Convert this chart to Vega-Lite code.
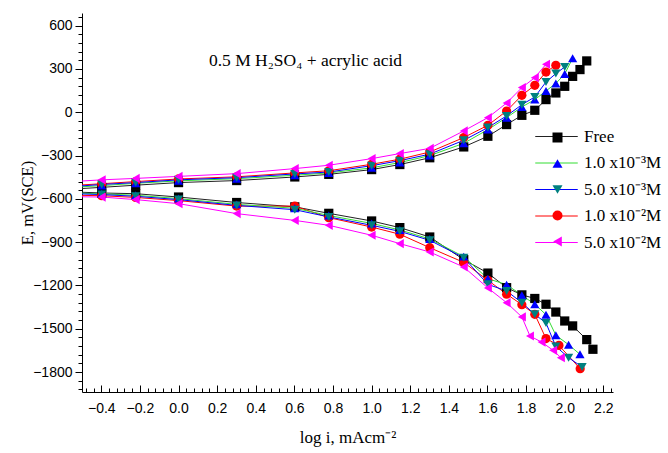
{
  "$schema": "https://vega.github.io/schema/vega-lite/v6.json",
  "width": 531,
  "height": 379,
  "autosize": {"type": "none"},
  "padding": {"left": 82, "top": 13, "right": 55, "bottom": 61},
  "background": "white",
  "config": {"view": {"stroke": null}, "font": "Liberation Sans"},
  "title": {
    "text": "0.5 M H₂SO₄ + acrylic acid",
    "font": "Liberation Serif", "fontSize": 17.5, "fontWeight": "normal", "color": "black",
    "anchor": "middle", "frame": "group", "orient": "top", "baseline": "alphabetic",
    "offset": -73, "dx": -42
  },
  "resolve": {"axis": {"x": "independent"}},
  "data": {"values": [
    {"s":"F","b":"a","x":-0.523,"E":-530},{"s":"F","b":"a","x":-0.398,"E":-520},{"s":"F","b":"a","x":-0.222,"E":-505},{"s":"F","b":"a","x":0,"E":-487},{"s":"F","b":"a","x":0.301,"E":-473},{"s":"F","b":"a","x":0.602,"E":-448},{"s":"F","b":"a","x":0.778,"E":-430},{"s":"F","b":"a","x":1.0,"E":-397},{"s":"F","b":"a","x":1.146,"E":-362},{"s":"F","b":"a","x":1.301,"E":-315},{"s":"F","b":"a","x":1.477,"E":-240},{"s":"F","b":"a","x":1.602,"E":-166},{"s":"F","b":"a","x":1.699,"E":-85},{"s":"F","b":"a","x":1.778,"E":-21},{"s":"F","b":"a","x":1.845,"E":14},{"s":"F","b":"a","x":1.903,"E":88},{"s":"F","b":"a","x":1.954,"E":134},{"s":"F","b":"a","x":2.0,"E":180},{"s":"F","b":"a","x":2.041,"E":249},{"s":"F","b":"a","x":2.079,"E":296},{"s":"F","b":"a","x":2.114,"E":356},
    {"s":"F","b":"c","x":-0.523,"E":-553},{"s":"F","b":"c","x":-0.398,"E":-559},{"s":"F","b":"c","x":-0.222,"E":-564},{"s":"F","b":"c","x":0,"E":-587},{"s":"F","b":"c","x":0.301,"E":-625},{"s":"F","b":"c","x":0.602,"E":-655},{"s":"F","b":"c","x":0.778,"E":-700},{"s":"F","b":"c","x":1.0,"E":-753},{"s":"F","b":"c","x":1.146,"E":-799},{"s":"F","b":"c","x":1.301,"E":-864},{"s":"F","b":"c","x":1.477,"E":-1021},{"s":"F","b":"c","x":1.602,"E":-1114},{"s":"F","b":"c","x":1.699,"E":-1215},{"s":"F","b":"c","x":1.778,"E":-1265},{"s":"F","b":"c","x":1.845,"E":-1290},{"s":"F","b":"c","x":1.903,"E":-1330},{"s":"F","b":"c","x":1.954,"E":-1384},{"s":"F","b":"c","x":2.0,"E":-1446},{"s":"F","b":"c","x":2.041,"E":-1480},{"s":"F","b":"c","x":2.114,"E":-1575},{"s":"F","b":"c","x":2.146,"E":-1642},
    {"s":"C","b":"a","x":-0.523,"E":-505},{"s":"C","b":"a","x":-0.398,"E":-495},{"s":"C","b":"a","x":-0.222,"E":-480},{"s":"C","b":"a","x":0,"E":-462},{"s":"C","b":"a","x":0.301,"E":-447},{"s":"C","b":"a","x":0.602,"E":-420},{"s":"C","b":"a","x":0.778,"E":-405},{"s":"C","b":"a","x":1.0,"E":-360},{"s":"C","b":"a","x":1.146,"E":-325},{"s":"C","b":"a","x":1.301,"E":-275},{"s":"C","b":"a","x":1.477,"E":-175},{"s":"C","b":"a","x":1.602,"E":-90},{"s":"C","b":"a","x":1.699,"E":9},{"s":"C","b":"a","x":1.778,"E":118},{"s":"C","b":"a","x":1.845,"E":187},{"s":"C","b":"a","x":1.903,"E":279},{"s":"C","b":"a","x":1.954,"E":326},
    {"s":"C","b":"c","x":-0.523,"E":-575},{"s":"C","b":"c","x":-0.398,"E":-578},{"s":"C","b":"c","x":-0.222,"E":-590},{"s":"C","b":"c","x":0,"E":-612},{"s":"C","b":"c","x":0.301,"E":-650},{"s":"C","b":"c","x":0.602,"E":-650},{"s":"C","b":"c","x":0.778,"E":-730},{"s":"C","b":"c","x":1.0,"E":-795},{"s":"C","b":"c","x":1.146,"E":-845},{"s":"C","b":"c","x":1.301,"E":-938},{"s":"C","b":"c","x":1.477,"E":-1040},{"s":"C","b":"c","x":1.602,"E":-1164},{"s":"C","b":"c","x":1.699,"E":-1260},{"s":"C","b":"c","x":1.778,"E":-1333},{"s":"C","b":"c","x":1.845,"E":-1400},{"s":"C","b":"c","x":1.903,"E":-1568},{"s":"C","b":"c","x":1.97,"E":-1615},{"s":"C","b":"c","x":2.08,"E":-1777},
    {"s":"A","b":"a","x":-0.523,"E":-518},{"s":"A","b":"a","x":-0.398,"E":-508},{"s":"A","b":"a","x":-0.222,"E":-492},{"s":"A","b":"a","x":0,"E":-475},{"s":"A","b":"a","x":0.301,"E":-460},{"s":"A","b":"a","x":0.602,"E":-436},{"s":"A","b":"a","x":0.778,"E":-420},{"s":"A","b":"a","x":1.0,"E":-385},{"s":"A","b":"a","x":1.146,"E":-348},{"s":"A","b":"a","x":1.301,"E":-300},{"s":"A","b":"a","x":1.477,"E":-215},{"s":"A","b":"a","x":1.602,"E":-120},{"s":"A","b":"a","x":1.699,"E":-37},{"s":"A","b":"a","x":1.778,"E":37},{"s":"A","b":"a","x":1.845,"E":88},{"s":"A","b":"a","x":1.903,"E":148},{"s":"A","b":"a","x":1.954,"E":200},{"s":"A","b":"a","x":2.0,"E":265},{"s":"A","b":"a","x":2.041,"E":375},
    {"s":"A","b":"c","x":-0.523,"E":-560},{"s":"A","b":"c","x":-0.398,"E":-565},{"s":"A","b":"c","x":-0.222,"E":-575},{"s":"A","b":"c","x":0,"E":-598},{"s":"A","b":"c","x":0.301,"E":-638},{"s":"A","b":"c","x":0.602,"E":-665},{"s":"A","b":"c","x":0.778,"E":-715},{"s":"A","b":"c","x":1.0,"E":-770},{"s":"A","b":"c","x":1.146,"E":-815},{"s":"A","b":"c","x":1.301,"E":-878},{"s":"A","b":"c","x":1.477,"E":-1000},{"s":"A","b":"c","x":1.602,"E":-1153},{"s":"A","b":"c","x":1.699,"E":-1194},{"s":"A","b":"c","x":1.778,"E":-1268},{"s":"A","b":"c","x":1.845,"E":-1330},{"s":"A","b":"c","x":1.903,"E":-1402},{"s":"A","b":"c","x":1.954,"E":-1545},{"s":"A","b":"c","x":2.02,"E":-1610},{"s":"A","b":"c","x":2.079,"E":-1677},
    {"s":"B","b":"a","x":-0.523,"E":-512},{"s":"B","b":"a","x":-0.398,"E":-500},{"s":"B","b":"a","x":-0.222,"E":-487},{"s":"B","b":"a","x":0,"E":-468},{"s":"B","b":"a","x":0.301,"E":-453},{"s":"B","b":"a","x":0.602,"E":-427},{"s":"B","b":"a","x":0.778,"E":-414},{"s":"B","b":"a","x":1.0,"E":-370},{"s":"B","b":"a","x":1.146,"E":-335},{"s":"B","b":"a","x":1.301,"E":-290},{"s":"B","b":"a","x":1.477,"E":-194},{"s":"B","b":"a","x":1.602,"E":-106},{"s":"B","b":"a","x":1.699,"E":-25},{"s":"B","b":"a","x":1.778,"E":53},{"s":"B","b":"a","x":1.845,"E":106},{"s":"B","b":"a","x":1.903,"E":210},{"s":"B","b":"a","x":1.954,"E":268},{"s":"B","b":"a","x":2.0,"E":314},
    {"s":"B","b":"c","x":-0.523,"E":-565},{"s":"B","b":"c","x":-0.398,"E":-570},{"s":"B","b":"c","x":-0.222,"E":-582},{"s":"B","b":"c","x":0,"E":-605},{"s":"B","b":"c","x":0.301,"E":-645},{"s":"B","b":"c","x":0.602,"E":-675},{"s":"B","b":"c","x":0.778,"E":-725},{"s":"B","b":"c","x":1.0,"E":-783},{"s":"B","b":"c","x":1.146,"E":-825},{"s":"B","b":"c","x":1.301,"E":-887},{"s":"B","b":"c","x":1.477,"E":-1007},{"s":"B","b":"c","x":1.602,"E":-1192},{"s":"B","b":"c","x":1.699,"E":-1238},{"s":"B","b":"c","x":1.778,"E":-1319},{"s":"B","b":"c","x":1.845,"E":-1400},{"s":"B","b":"c","x":1.903,"E":-1460},{"s":"B","b":"c","x":1.954,"E":-1622},{"s":"B","b":"c","x":2.02,"E":-1700},{"s":"B","b":"c","x":2.09,"E":-1765},
    {"s":"D","b":"a","x":-0.523,"E":-478},{"s":"D","b":"a","x":-0.398,"E":-468},{"s":"D","b":"a","x":-0.222,"E":-458},{"s":"D","b":"a","x":0,"E":-444},{"s":"D","b":"a","x":0.301,"E":-425},{"s":"D","b":"a","x":0.602,"E":-390},{"s":"D","b":"a","x":0.778,"E":-367},{"s":"D","b":"a","x":1.0,"E":-321},{"s":"D","b":"a","x":1.146,"E":-286},{"s":"D","b":"a","x":1.301,"E":-250},{"s":"D","b":"a","x":1.477,"E":-129},{"s":"D","b":"a","x":1.602,"E":-37},{"s":"D","b":"a","x":1.699,"E":64},{"s":"D","b":"a","x":1.778,"E":171},{"s":"D","b":"a","x":1.845,"E":240},{"s":"D","b":"a","x":1.903,"E":333},
    {"s":"D","b":"c","x":-0.523,"E":-585},{"s":"D","b":"c","x":-0.398,"E":-587},{"s":"D","b":"c","x":-0.222,"E":-605},{"s":"D","b":"c","x":0,"E":-633},{"s":"D","b":"c","x":0.301,"E":-702},{"s":"D","b":"c","x":0.602,"E":-749},{"s":"D","b":"c","x":0.778,"E":-783},{"s":"D","b":"c","x":1.0,"E":-852},{"s":"D","b":"c","x":1.146,"E":-910},{"s":"D","b":"c","x":1.301,"E":-968},{"s":"D","b":"c","x":1.477,"E":-1072},{"s":"D","b":"c","x":1.602,"E":-1217},{"s":"D","b":"c","x":1.699,"E":-1319},{"s":"D","b":"c","x":1.778,"E":-1418},{"s":"D","b":"c","x":1.82,"E":-1550},{"s":"D","b":"c","x":1.88,"E":-1592},{"s":"D","b":"c","x":1.94,"E":-1649},{"s":"D","b":"c","x":1.98,"E":-1700}
  ]},
  "encoding": {
    "y": {"field": "E", "type": "quantitative",
      "scale": {"domain": [-1938, 688], "nice": false, "zero": false},
      "axis": {
        "title": "E, mV(SCE)", "titleFont": "Liberation Serif", "titleFontSize": 16.5, "titleFontWeight": "normal", "titleColor": "black", "titlePadding": -3,
        "values": [-1920,-1860,-1800,-1740,-1680,-1620,-1560,-1500,-1440,-1380,-1320,-1260,-1200,-1140,-1080,-1020,-960,-900,-840,-780,-720,-660,-600,-540,-480,-420,-360,-300,-240,-180,-120,-60,0,60,120,180,240,300,360,420,480,540,600,660],
        "labelExpr": "datum.value % 300 == 0 ? format(datum.value, 'd') : ''",
        "labelOverlap": false, "labelFlush": false, "labelBound": false,
        "labelFont": "Liberation Sans", "labelFontSize": 14, "labelColor": "black", "labelPadding": 3,
        "tickSize": {"condition": {"test": "datum.value % 300 == 0", "value": 7}, "value": 4},
        "tickColor": "black", "domainColor": "black", "grid": false
      }
    }
  },
  "layer": [
    {
      "mark": {"type": "line", "strokeWidth": 1, "clip": true},
      "encoding": {
        "x": {"field": "x", "type": "quantitative",
          "scale": {"domain": [-0.5, 2.25], "nice": false, "zero": false},
          "axis": {
            "orient": "bottom",
            "title": "log i, mAcm⁻²", "titleFont": "Liberation Serif", "titleFontSize": 17, "titleFontWeight": "normal", "titleColor": "black", "titlePadding": 14,
            "values": [-0.4,-0.2,0,0.2,0.4,0.6,0.8,1,1.2,1.4,1.6,1.8,2,2.2],
            "format": ".1f",
            "labelOverlap": false, "labelFlush": false, "labelBound": false,
            "labelFont": "Liberation Sans", "labelFontSize": 14, "labelColor": "black", "labelPadding": 9,
            "ticks": false, "domainColor": "black", "grid": false
          }
        },
        "detail": {"field": "b"},
        "color": {"field": "s", "type": "nominal",
          "scale": {"domain": ["F","A","B","C","D"], "range": ["#222222","#33dd33","#0000ff","#ff0000","#ff00ff"]},
          "legend": {
            "title": null, "orient": "none", "legendX": 457, "legendY": 106, "padding": 0,
            "symbolType": "M-1.25,0L1.25,0", "symbolSize": 1156, "symbolStrokeWidth": 1, "symbolOffset": 0, "labelOffset": 10, "rowPadding": 0.5,
            "labelFont": "Liberation Serif", "labelFontSize": 17, "labelColor": "black",
            "labelExpr": "datum.value == 'F' ? 'Free' : datum.value == 'A' ? '1.0 x10⁻³M' : datum.value == 'B' ? '5.0 x10⁻³M' : datum.value == 'C' ? '1.0 x10⁻²M' : '5.0 x10⁻²M'"
          }
        }
      }
    },
    {
      "transform": [{"filter": "datum.x > -0.45"}],
      "mark": {"type": "point", "filled": true, "size": 85, "opacity": 1, "strokeWidth": 0},
      "encoding": {
        "x": {"field": "x", "type": "quantitative",
          "scale": {"domain": [-0.5, 2.25], "nice": false, "zero": false},
          "axis": {
            "orient": "top", "offset": -379, "title": null, "labels": false, "domain": false, "grid": false,
            "values": [-0.48,-0.44,-0.4,-0.36,-0.32,-0.28,-0.24,-0.2,-0.16,-0.12,-0.08,-0.04,0,0.04,0.08,0.12,0.16,0.2,0.24,0.28,0.32,0.36,0.4,0.44,0.48,0.52,0.56,0.6,0.64,0.68,0.72,0.76,0.8,0.84,0.88,0.92,0.96,1,1.04,1.08,1.12,1.16,1.2,1.24,1.28,1.32,1.36,1.4,1.44,1.48,1.52,1.56,1.6,1.64,1.68,1.72,1.76,1.8,1.84,1.88,1.92,1.96,2,2.04,2.08,2.12,2.16,2.2,2.24],
            "tickSize": {"condition": {"test": "abs(datum.value*5 - round(datum.value*5)) < 0.001", "value": 7}, "value": 4},
            "tickColor": "black"
          }
        },
        "shape": {"field": "s", "type": "nominal",
          "scale": {"domain": ["F","A","B","C","D","Z"], "range": ["square","triangle-up","triangle-down","circle","triangle-left","circle"]},
          "legend": {
            "title": null, "orient": "none", "legendX": 467, "legendY": 116, "padding": 0,
            "values": ["F","A","B","C","D"],
            "symbolSize": 100, "symbolStrokeWidth": 0, "symbolOffset": 0, "labelOffset": 18, "rowPadding": 8,
            "labelFont": "Liberation Serif", "labelFontSize": 17, "labelOpacity": 0,
            "labelExpr": "''"
          }},
        "fill": {"field": "s", "type": "nominal",
          "scale": {"domain": ["F","A","B","C","D","Z"], "range": ["#000000","#0000ff","#008080","#ff0000","#ff00ff","#000000"]},
          "legend": {
            "title": null, "orient": "none", "legendX": 467, "legendY": 116, "padding": 0,
            "values": ["F","A","B","C","D"],
            "symbolSize": 100, "symbolStrokeWidth": 0, "symbolOffset": 0, "labelOffset": 18, "rowPadding": 8,
            "labelFont": "Liberation Serif", "labelFontSize": 17, "labelOpacity": 0,
            "labelExpr": "''"
          }}
      }
    }
  ]
}
